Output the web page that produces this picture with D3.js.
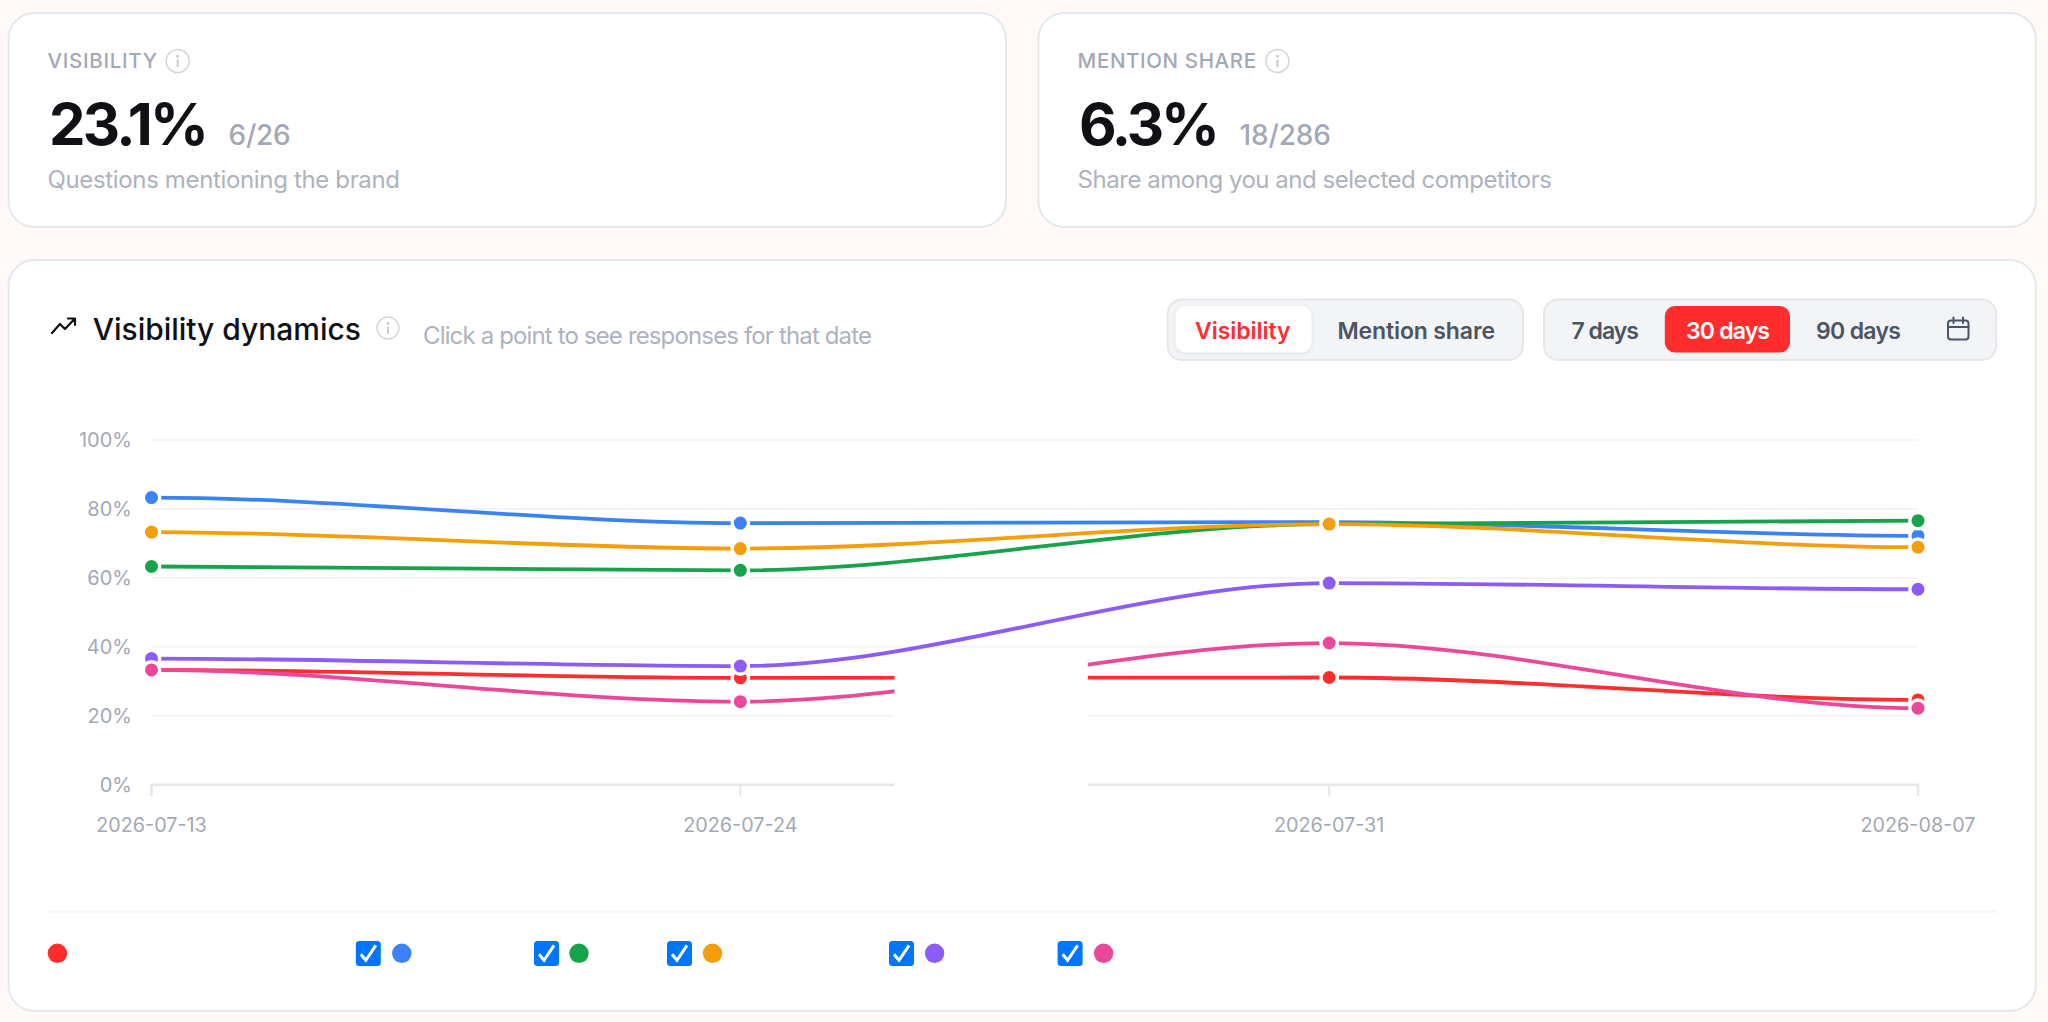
<!DOCTYPE html>
<html><head><meta charset="utf-8">
<script src="https://cdn.jsdelivr.net/npm/d3@7/dist/d3.min.js"></script>
<style>html,body{margin:0;padding:0;background:#fffaf8}svg{display:block}text{font-family:Inter,"Noto Sans",sans-serif}</style>
</head><body><svg id="c" width="2048" height="1022"></svg>
<script>
const dates = ["2026-07-13","2026-07-24","2026-07-31","2026-08-07"];
const yTicks = [0,20,40,60,80,100];
const brand = [33.3,31.0,31.1,24.6];
const blue = [83.3,75.9,76.2,72.2];
const green = [63.3,62.2,75.6,76.6];
const orange = [73.3,68.5,75.6,68.9];
const purple = [36.6,34.4,58.5,56.7];
const pink = [33.3,24.1,41.1,22.2];
const seriesValues = [brand,blue,green,orange,purple,pink];
const seriesColors = ["#ff2d2d","#3b82f6","#16a34a","#f59e0b","#8b5cf6","#ec4899"];
const legendDots = [57.4,401.8,579,712.5,934.6,1103.6];
const legendChecks = [null,355.8,534,667,889,1057.6];

const svg = d3.select("#c");
const INK="#0f1115", MUTE="#a3a8b6", SOFT="#aeb2be", DARK="#4b5563", RED="#ff2d2d", BORDER="#e6e7ec";

function card(x0,y0,x1,y1){svg.append("rect").attr("x",x0).attr("y",y0).attr("width",x1-x0).attr("height",y1-y0).attr("rx",26).attr("fill","#fff").attr("stroke",BORDER).attr("stroke-width",2);}
function label(s,x0,x1,base,size,weight,fill){
  return svg.append("text").text(s).attr("x",x0).attr("y",base).attr("font-size",size).attr("font-weight",weight).attr("fill",fill).attr("textLength",x1-x0).attr("lengthAdjust","spacing");
}
function info(cx,cy,r){
  const g=svg.append("g").attr("transform",`translate(${cx},${cy})`);
  g.append("circle").attr("r",r).attr("fill","none").attr("stroke","#d5d7de").attr("stroke-width",1.6);
  g.append("circle").attr("cy",-r*0.42).attr("r",1.3).attr("fill","#c3c6cf");
  g.append("line").attr("y1",-r*0.12).attr("y2",r*0.52).attr("stroke","#c3c6cf").attr("stroke-width",1.8);
}
card(8.5,13,1006,227);
card(1038.4,13,2035.8,227);
card(8.5,260,2035.8,1011);

label("VISIBILITY",47.5,157,68,20.5,500,MUTE); info(177.7,61,11.5);
label("23.1%",49,209,144.5,58,700,INK);
label("6/26",228.6,290.7,144.5,28,500,MUTE);
label("Questions mentioning the brand",47.5,400,188,24,400,SOFT);

label("MENTION SHARE",1077.6,1256,68,20.5,500,MUTE); info(1277.4,61,11.5);
label("6.3%",1079,1220,144.5,58,700,INK);
label("18/286",1239.5,1331,144.5,28,500,MUTE);
label("Share among you and selected competitors",1077.6,1552,188,24,400,SOFT);

svg.append("path").attr("d","M52 333 L60 324 L65 329 L74.5 319 M68 318.5 H75 V325").attr("fill","none").attr("stroke",INK).attr("stroke-width",2.2).attr("stroke-linejoin","round").attr("stroke-linecap","round");
label("Visibility dynamics",92.7,361,339.5,30,550,INK);
info(388,328,11);
label("Click a point to see responses for that date",423,872,344,24,400,SOFT);

function seg(x0,x1){svg.append("rect").attr("x",x0).attr("y",299.5).attr("width",x1-x0).attr("height",60.5).attr("rx",14).attr("fill","#f3f4f6").attr("stroke","#e5e7eb").attr("stroke-width",2);}
seg(1167.7,1523); seg(1544,1996);
svg.append("rect").attr("x",1175.5).attr("y",306).attr("width",136).attr("height",46.5).attr("rx",10).attr("fill","#fff").style("filter","drop-shadow(0 1px 2px rgba(0,0,0,.08))");
svg.append("rect").attr("x",1664.8).attr("y",306).attr("width",125.2).attr("height",46.5).attr("rx",10).attr("fill",RED);
label("Visibility",1195,1290.5,339,23,600,RED);
label("Mention share",1337.5,1495,339,23,600,DARK);
label("7 days",1571.4,1639,339,23,600,DARK);
label("30 days",1686,1770,339,23,600,"#fff");
label("90 days",1816,1901,339,23,600,DARK);
const cal=svg.append("g").attr("fill","none").attr("stroke",DARK).attr("stroke-width",2);
cal.append("rect").attr("x",1948).attr("y",320.5).attr("width",20.5).attr("height",19).attr("rx",3);
cal.append("path").attr("d","M1948 327 H1968.5 M1953.5 317.5 V323 M1963 317.5 V323").attr("stroke-linecap","round");

// chart
const x = d3.scalePoint().domain(dates).range([151.5,1918]);
const y = d3.scaleLinear().domain([0,100]).range([784.7,440]);

const gridG = svg.append("g").attr("transform","translate(151.5,0)").call(d3.axisLeft(y).offset(0).tickValues(yTicks).tickSize(-(1918-151.5)).tickFormat(d=>d+"%"));
gridG.select(".domain").remove();
gridG.selectAll(".tick line").attr("stroke","#f3f4f6").attr("stroke-width",2);
gridG.selectAll(".tick text").attr("fill",MUTE).attr("font-size",20).attr("font-family","Inter").attr("x",-19.5).attr("y",1);

const xG = svg.append("g").attr("transform","translate(0,784.7)").call(d3.axisBottom(x).offset(0).tickSize(11).tickPadding(22));
xG.select(".domain").attr("stroke","#e5e7eb").attr("stroke-width",2.5);
xG.selectAll(".tick line").attr("stroke","#e5e7eb").attr("stroke-width",2);
xG.selectAll(".tick text").attr("fill",MUTE).attr("font-size",19.8).attr("font-family","Inter");

function SmoothH(ctx,s){this._c=ctx;this._s=s;}
SmoothH.prototype={
  lineStart(){this._i=0;},lineEnd(){},
  point(px,py){
    if(this._i===0)this._c.moveTo(px,py);
    else{const d=(px-this._x)*this._s;this._c.bezierCurveTo(this._x+d,this._y,px-d,py,px,py);}
    this._x=px;this._y=py;this._i++;
  }
};
const smoothCurve = ctx => new SmoothH(ctx,0.32);
const line = d3.line().x((d,i)=>x(dates[i])).y(d=>y(d)).curve(smoothCurve);

seriesValues.forEach((vals,k)=>{
  const g=svg.append("g");
  g.append("path").attr("d",line(vals)).attr("fill","none").attr("stroke",seriesColors[k]).attr("stroke-width",3.8);
  g.selectAll("circle").data(vals).join("circle").attr("cx",(d,i)=>x(dates[i])).attr("cy",d=>y(d)).attr("r",8.2).attr("fill",seriesColors[k]).attr("stroke","#fff").attr("stroke-width",3.4);
});

// blanked-out area of the reference
svg.append("rect").attr("x",894.5).attr("y",656).attr("width",193.3).attr("height",150).attr("fill","#fff");

// legend
svg.append("line").attr("x1",47.4).attr("x2",1996).attr("y1",911.7).attr("y2",911.7).attr("stroke","#f3f4f6").attr("stroke-width",2);
const legY=953.3;
seriesColors.forEach((c,k)=>{
  svg.append("circle").attr("cx",legendDots[k]).attr("cy",legY).attr("r",9.7).attr("fill",c);
  if(legendChecks[k]!==null){
    const bx=legendChecks[k];
    svg.append("rect").attr("x",bx).attr("y",941).attr("width",25).attr("height",25).attr("rx",3.5).attr("fill","#0075ff");
    svg.append("path").attr("d",`M${bx+5} ${legY+1} L${bx+10} ${legY+7} L${bx+20} ${legY-8}`).attr("fill","none").attr("stroke","#fff").attr("stroke-width",3);
  }
});
</script></body></html>
